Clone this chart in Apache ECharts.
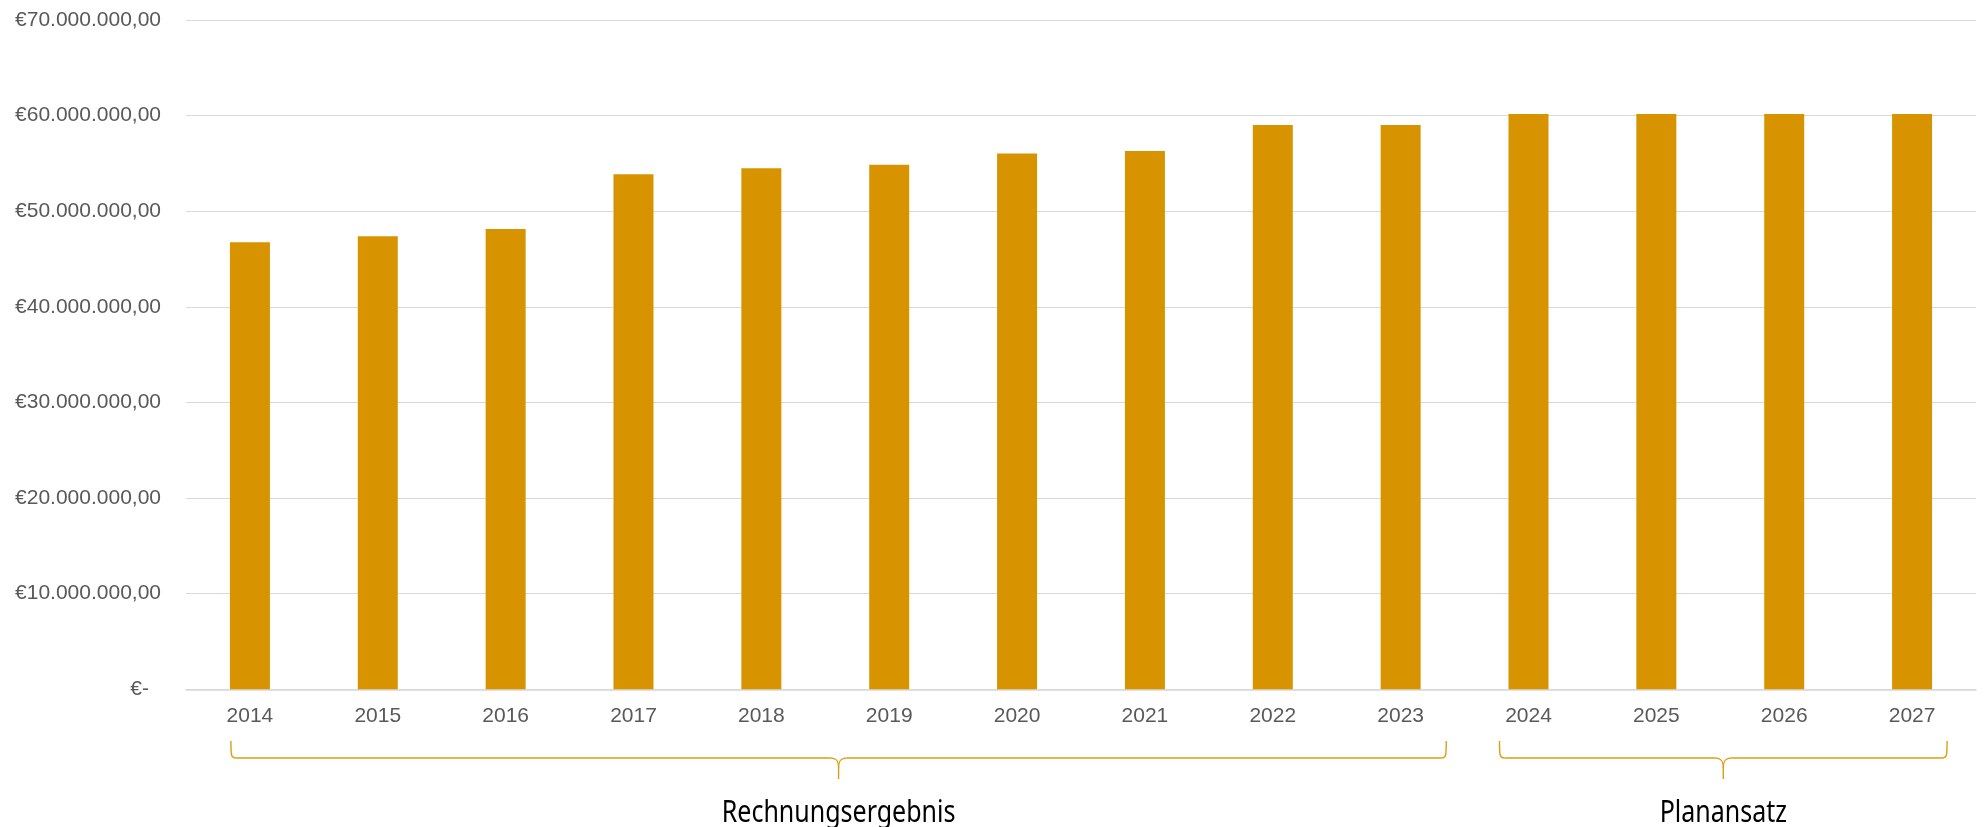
<!DOCTYPE html>
<html>
<head>
<meta charset="utf-8">
<script src="https://cdn.jsdelivr.net/npm/echarts@6/dist/echarts.min.js"></script>
<style>
html,body{margin:0;padding:0;background:#fff;}
#chart{width:1984px;height:827px;}
</style>
</head>
<body>
<div id="chart"></div>
<script>
const years = ['2014','2015','2016','2017','2018','2019','2020','2021','2022','2023','2024','2025','2026','2027'];
const values = [46760000, 47380000, 48150000, 53870000, 54500000, 54870000, 56030000, 56310000, 59030000, 59030000, 60180000, 60180000, 60180000, 60180000];
const groupLabels = ['Rechnungsergebnis', 'Planansatz'];
const groupRanges = [['2014','2023'], ['2024','2027']];

function fmtEuro(v) {
  if (v === 0) return '{z|€-}';
  const s = Math.round(v).toString().replace(/\B(?=(\d{3})+(?!\d))/g, '.');
  return '€' + s + ',00';
}

const chart = echarts.init(document.getElementById('chart'), null, {renderer: 'canvas'});
chart.setOption({
  animation: false,
  backgroundColor: '#ffffff',
  grid: {left: 186, right: 8, top: 20, bottom: 137.7},
  xAxis: {
    type: 'category',
    data: years,
    axisTick: {show: false},
    axisLine: {lineStyle: {color: '#d9d9d9', width: 1.5}},
    axisLabel: {color: '#595959', fontSize: 21, fontFamily: 'Liberation Sans, Arial', margin: 16}
  },
  yAxis: {
    type: 'value',
    min: 0, max: 70000000, interval: 10000000,
    axisLine: {show: false},
    axisTick: {show: false},
    splitLine: {lineStyle: {color: '#d9d9d9', width: 1.2}},
    axisLabel: {
      color: '#595959', fontSize: 21, fontFamily: 'Liberation Sans, Arial', margin: 25,
      formatter: fmtEuro,
      rich: {z: {color: '#595959', fontSize: 21, fontFamily: 'Liberation Sans, Arial', padding: [0, 12, 0, 0]}}
    }
  },
  series: [{
    type: 'bar',
    data: values,
    barWidth: 40,
    itemStyle: {color: '#D79400'}
  }]
});

const braceStyle = {fill: null, stroke: '#DE9D14', lineWidth: 1.4};
function braceParts(x0, x1) {
  const xc = (x0 + x1) / 2;
  const parts = [];
  const bz = (a, b, c1, c2) => parts.push({type: 'bezierCurve', shape: {x1: a[0], y1: a[1], x2: b[0], y2: b[1], cpx1: c1[0], cpy1: c1[1], cpx2: c2[0], cpy2: c2[1]}, style: braceStyle});
  const ln = (a, b) => parts.push({type: 'line', shape: {x1: a[0], y1: a[1], x2: b[0], y2: b[1]}, style: braceStyle});
  bz([x0, 741], [x0 + 5, 758], [x0, 755], [x0, 758]);
  ln([x0 + 5, 758], [xc - 8, 758]);
  bz([xc - 8, 758], [xc, 768], [xc - 2, 758], [xc, 761]);
  ln([xc, 768], [xc, 779]);
  bz([xc + 8, 758], [xc, 768], [xc + 2, 758], [xc, 761]);
  ln([xc + 8, 758], [x1 - 5, 758]);
  bz([x1, 741], [x1 - 5, 758], [x1, 755], [x1, 758]);
  return parts;
}
const offs = [[-19, 45.6], [-29, 35]];
let graphics = [];
groupRanges.forEach((r, i) => {
  const a = chart.convertToPixel({xAxisIndex: 0}, r[0]) + offs[i][0];
  const b = chart.convertToPixel({xAxisIndex: 0}, r[1]) + offs[i][1];
  graphics = graphics.concat(braceParts(a, b));
  graphics.push({
    type: 'text',
    x: (a + b) / 2, y: 813,
    scaleY: 1.2,
    style: {text: groupLabels[i], fill: '#000000', fontSize: 25, fontFamily: 'Noto Sans', align: 'center', verticalAlign: 'middle'}
  });
});
chart.setOption({graphic: graphics});
</script>
</body>
</html>
